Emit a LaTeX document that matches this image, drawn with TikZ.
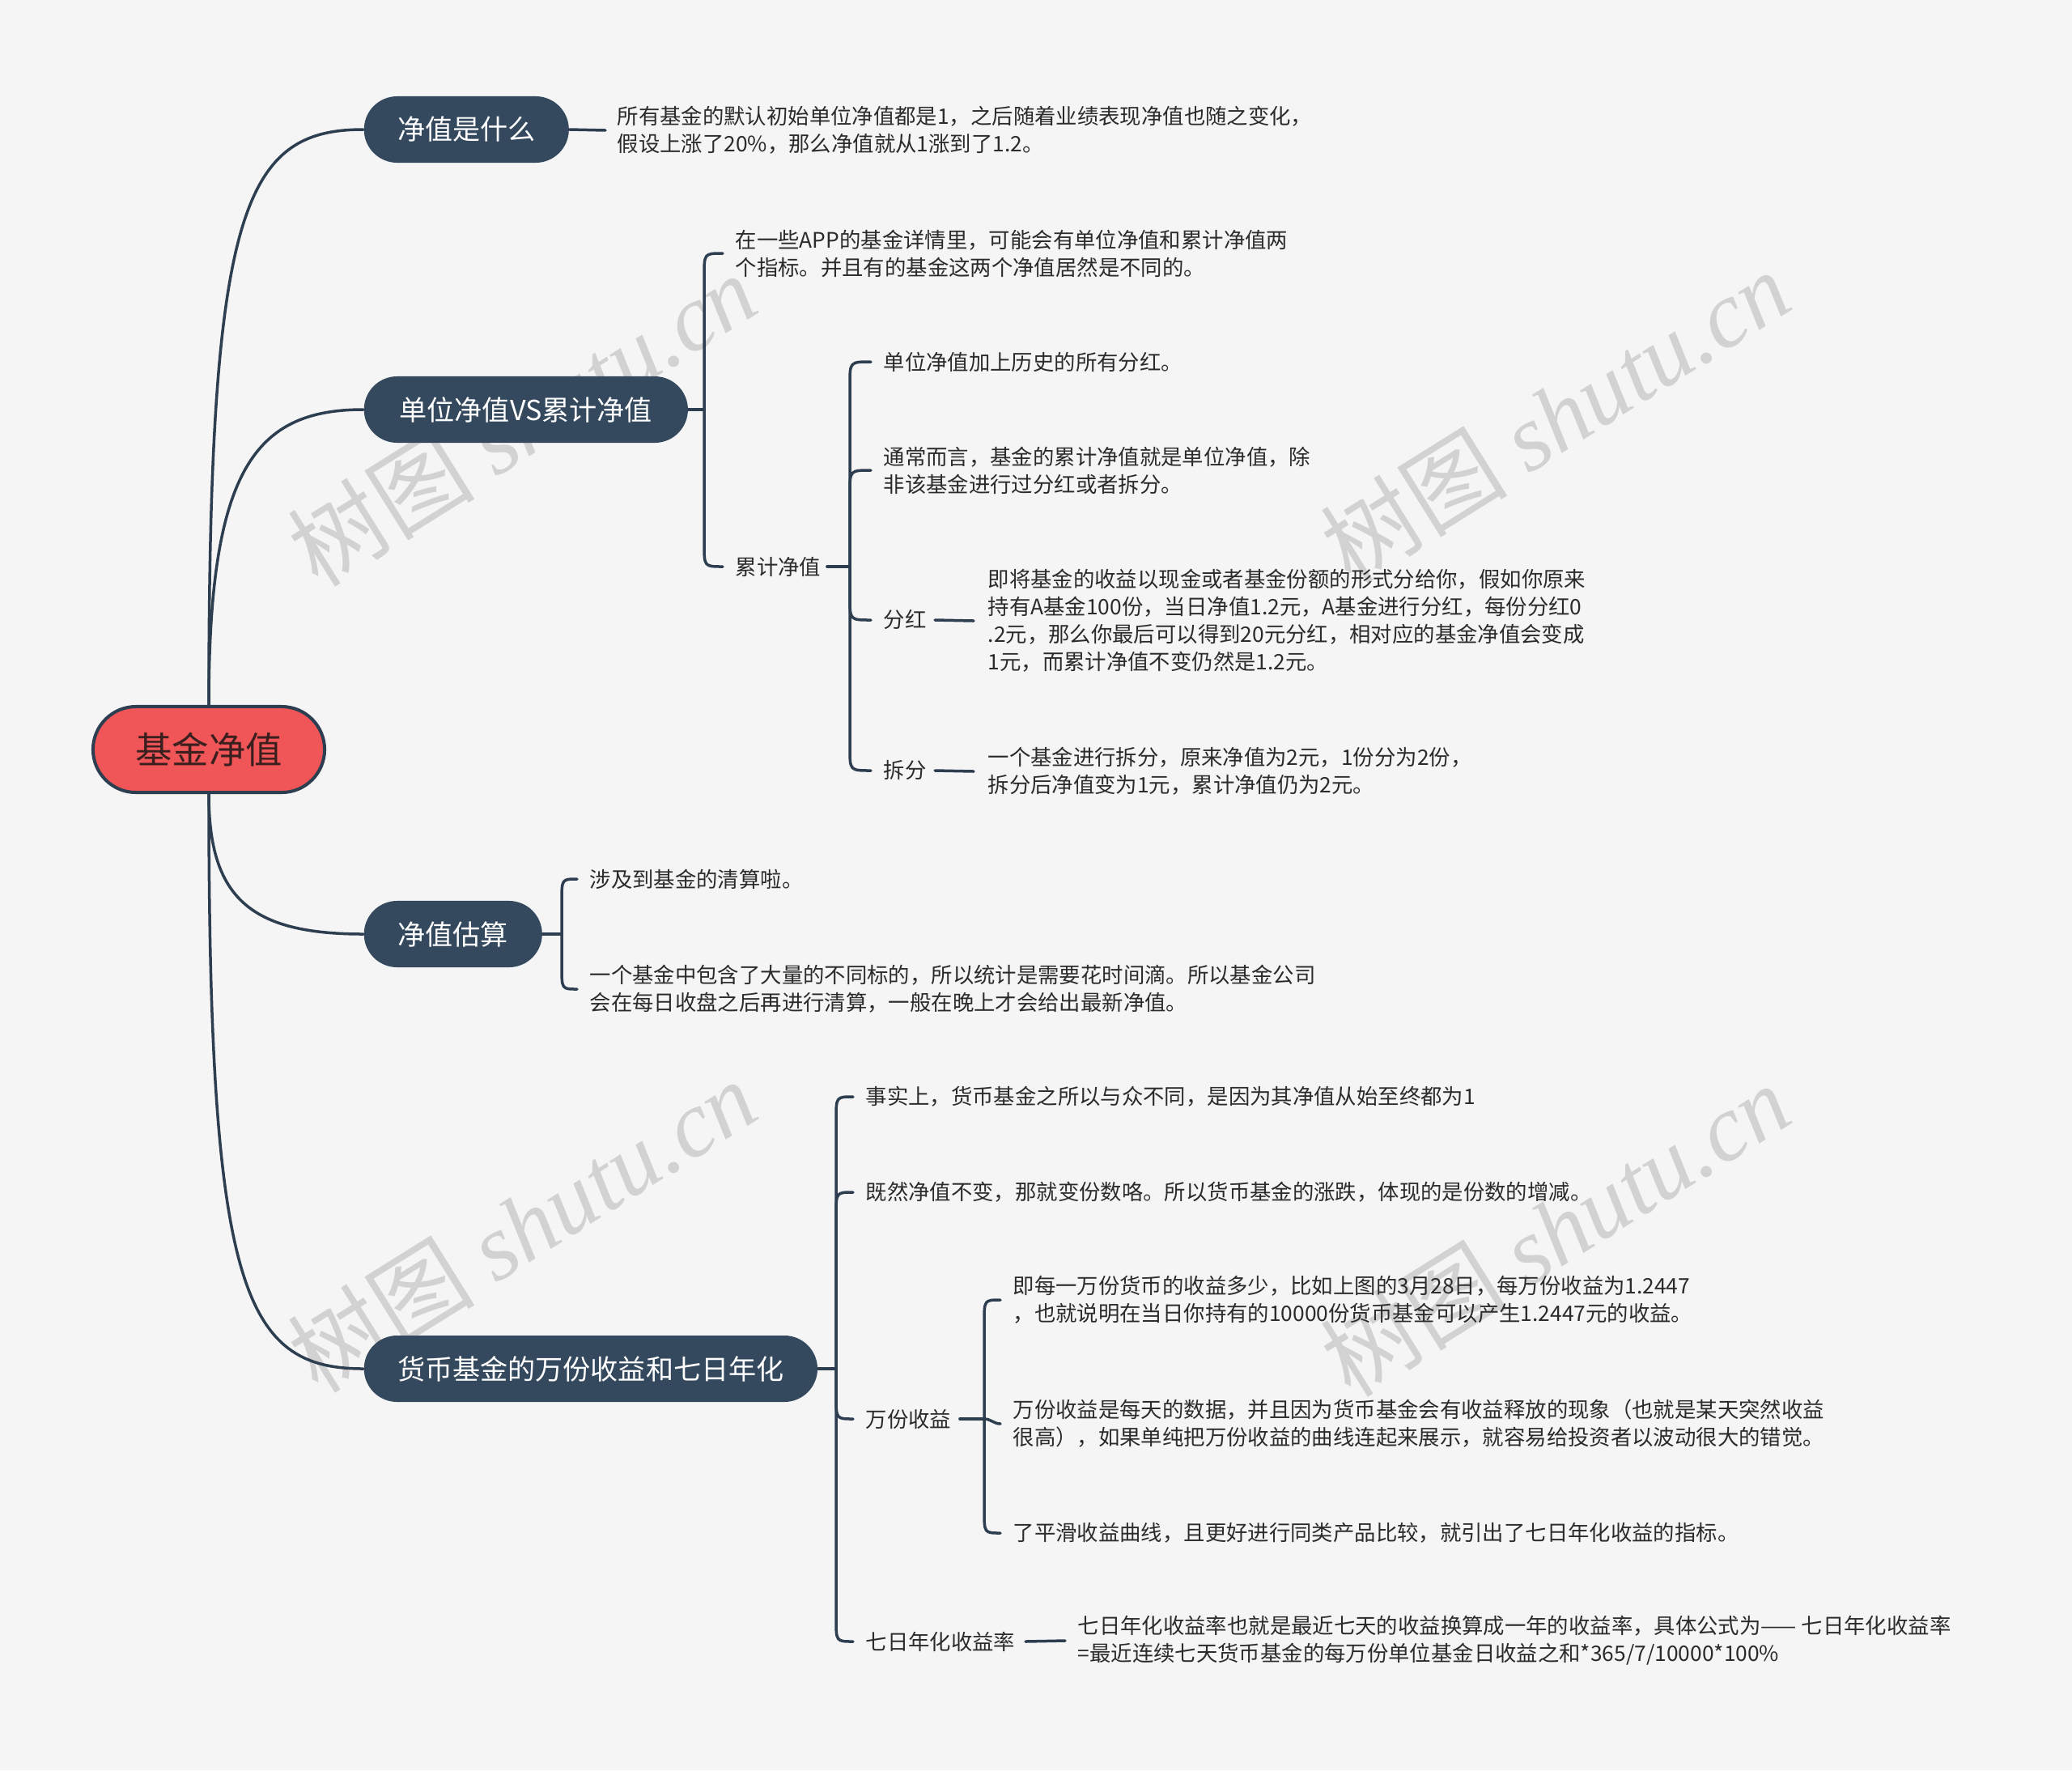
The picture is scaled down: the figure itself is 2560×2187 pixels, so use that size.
\documentclass[tikz,border=0pt]{standalone}
\usepackage{fontspec}
\setmainfont{Noto Sans CJK SC}
\newfontfamily\wmlatin{Liberation Serif}
\newfontfamily\wmcjk{Noto Sans CJK SC}
\usetikzlibrary{calc}
\definecolor{bgc}{HTML}{F5F5F5}
\definecolor{navy}{HTML}{34495E}
\definecolor{linec}{HTML}{2C3E50}
\definecolor{rootred}{HTML}{F05657}
\definecolor{roottxt}{HTML}{3B1F1F}
\definecolor{txt}{HTML}{2B2B2B}
\definecolor{wm}{HTML}{D2D2D2}
\newcommand\brkup[2]{\draw[conn] (#1) -- ($(#1 |- #2.west)+(0,-0.28cm)$) .. controls (#1 |- #2.west) .. ([xshift=-0.15cm]#2.west);}
\newcommand\brkdown[2]{\draw[conn] (#1) -- ($(#1 |- #2.west)+(0,0.28cm)$) .. controls (#1 |- #2.west) .. ([xshift=-0.15cm]#2.west);}
\begin{document}
\begin{tikzpicture}[x=0.01cm,y=-0.01cm,
  conn/.style={draw=linec, line width=0.035cm, line cap=round},
  rootnode/.style={draw=linec, line width=0.04cm, fill=rootred, text=roottxt, rounded corners=0.53cm, minimum height=1.06cm, minimum width=2.86cm, inner sep=0pt, font=\fontsize{12.9pt}{15pt}\selectfont},
  branch/.style={fill=navy, text=white, rounded corners=0.41cm, minimum height=0.82cm, inner sep=0pt, font=\fontsize{9.7pt}{12pt}\selectfont, anchor=west},
  leaf/.style={anchor=west, inner sep=0pt, align=left, text=txt, font=\fontsize{7.5pt}{9.7pt}\selectfont},
  wmark/.style={text=wm, rotate=32, inner sep=0pt, font=\fontsize{33pt}{38pt}\selectfont}]
\fill[bgc] (0,0) rectangle (2560,2187);
\useasboundingbox (0,0) rectangle (2560,2187);
% watermarks
\node[wmark] (w1) at (645,518) {{\wmcjk 树图} {\wmlatin\itshape shutu.cn}};
\node[wmark] (w2) at (1921,514) {{\wmcjk 树图} {\wmlatin\itshape shutu.cn}};
\node[wmark] (w3) at (645,1514) {{\wmcjk 树图} {\wmlatin\itshape shutu.cn}};
\node[wmark] (w4) at (1921,1519) {{\wmcjk 树图} {\wmlatin\itshape shutu.cn}};
% nodes
\node[rootnode] (root) at (258,926) {基金净值};
\node[branch, minimum width=2.53cm] (b1) at (449,160) {净值是什么};
\node[branch, minimum width=4.00cm] (b2) at (449,506) {单位净值VS累计净值};
\node[branch, minimum width=2.20cm] (b3) at (449,1154) {净值估算};
\node[branch, minimum width=5.60cm] (b4) at (449,1691) {货币基金的万份收益和七日年化};
% leaves
\node[leaf] (l1) at (762,161) {所有基金的默认初始单位净值都是1，之后随着业绩表现净值也随之变化，\\假设上涨了20\%，那么净值就从1涨到了1.2。};
\node[leaf] (l2a) at (908,313) {在一些APP的基金详情里，可能会有单位净值和累计净值两\\个指标。并且有的基金这两个净值居然是不同的。};
\node[leaf] (l2b) at (908,700) {累计净值};
\node[leaf] (l2b1) at (1091,447) {单位净值加上历史的所有分红。};
\node[leaf] (l2b2) at (1091,581) {通常而言，基金的累计净值就是单位净值，除\\非该基金进行过分红或者拆分。};
\node[leaf] (l2b3) at (1091,766) {分红};
\node[leaf] (l2b3t) at (1220,767) {即将基金的收益以现金或者基金份额的形式分给你，假如你原来\\持有A基金100份，当日净值1.2元，A基金进行分红，每份分红0\\.2元，那么你最后可以得到20元分红，相对应的基金净值会变成\\1元，而累计净值不变仍然是1.2元。};
\node[leaf] (l2b4) at (1091,952) {拆分};
\node[leaf] (l2b4t) at (1220,953) {一个基金进行拆分，原来净值为2元，1份分为2份，\\拆分后净值变为1元，累计净值仍为2元。};
\node[leaf] (l3a) at (728,1086) {涉及到基金的清算啦。};
\node[leaf] (l3b) at (728,1222) {一个基金中包含了大量的不同标的，所以统计是需要花时间滴。所以基金公司\\会在每日收盘之后再进行清算，一般在晚上才会给出最新净值。};
\node[leaf] (l4a) at (1069,1355) {事实上，货币基金之所以与众不同，是因为其净值从始至终都为1};
\node[leaf] (l4b) at (1069,1473) {既然净值不变，那就变份数咯。所以货币基金的涨跌，体现的是份数的增减。};
\node[leaf] (l4c) at (1069,1753) {万份收益};
\node[leaf] (l4c1) at (1251,1606) {即每一万份货币的收益多少，比如上图的3月28日，每万份收益为1.2447\\，也就说明在当日你持有的10000份货币基金可以产生1.2447元的收益。};
\node[leaf] (l4c2) at (1251,1759) {万份收益是每天的数据，并且因为货币基金会有收益释放的现象（也就是某天突然收益\\很高），如果单纯把万份收益的曲线连起来展示，就容易给投资者以波动很大的错觉。};
\node[leaf] (l4c3) at (1251,1894) {了平滑收益曲线，且更好进行同类产品比较，就引出了七日年化收益的指标。};
\node[leaf] (l4d) at (1069,2028) {七日年化收益率};
\node[leaf] (l4dt) at (1331,2027) {七日年化收益率也就是最近七天的收益换算成一年的收益率，具体公式为—— 七日年化收益率\\=最近连续七天货币基金的每万份单位基金日收益之和*365/7/10000*100\%};
% junctions
\coordinate (j2) at (870,506);
\coordinate (j2b) at (1050,700);
\coordinate (j3) at (694,1154);
\coordinate (j4) at (1033,1691);
\coordinate (j4c) at (1216,1753);
% trunk connectors
\draw[conn] (root.north) .. controls (258,260) and (300,160) .. (b1.west);
\draw[conn] (root.north) .. controls (258,580) and (315,506) .. (b2.west);
\draw[conn] (root.south) .. controls (258,1110) and (310,1154) .. (b3.west);
\draw[conn] (root.south) .. controls (258,1591) and (300,1691) .. (b4.west);
% branch 1
\draw[conn] (b1.east) -- ([xshift=-0.14cm]l1.west);
% branch 2
\draw[conn] (b2.east) -- (j2);
\brkup{j2}{l2a}
\brkdown{j2}{l2b}
\draw[conn] ([xshift=0.07cm]l2b.east) -- (j2b);
\brkup{j2b}{l2b1}
\brkup{j2b}{l2b2}
\brkdown{j2b}{l2b3}
\brkdown{j2b}{l2b4}
\draw[conn] ([xshift=0.1cm]l2b3.east) -- ([xshift=-0.17cm]l2b3t.west);
\draw[conn] ([xshift=0.1cm]l2b4.east) -- ([xshift=-0.17cm]l2b4t.west);
% branch 3
\draw[conn] (b3.east) -- (j3);
\brkup{j3}{l3a}
\brkdown{j3}{l3b}
% branch 4
\draw[conn] (b4.east) -- (j4);
\brkup{j4}{l4a}
\brkup{j4}{l4b}
\brkdown{j4}{l4c}
\brkdown{j4}{l4d}
\draw[conn] ([xshift=0.1cm]l4c.east) -- (j4c);
\brkup{j4c}{l4c1}
\draw[conn] (j4c) to[out=0,in=180] ([xshift=-0.15cm]l4c2.west);
\brkdown{j4c}{l4c3}
\draw[conn] ([xshift=0.12cm]l4d.east) -- ([xshift=-0.15cm]l4dt.west);
\end{tikzpicture}
\end{document}
